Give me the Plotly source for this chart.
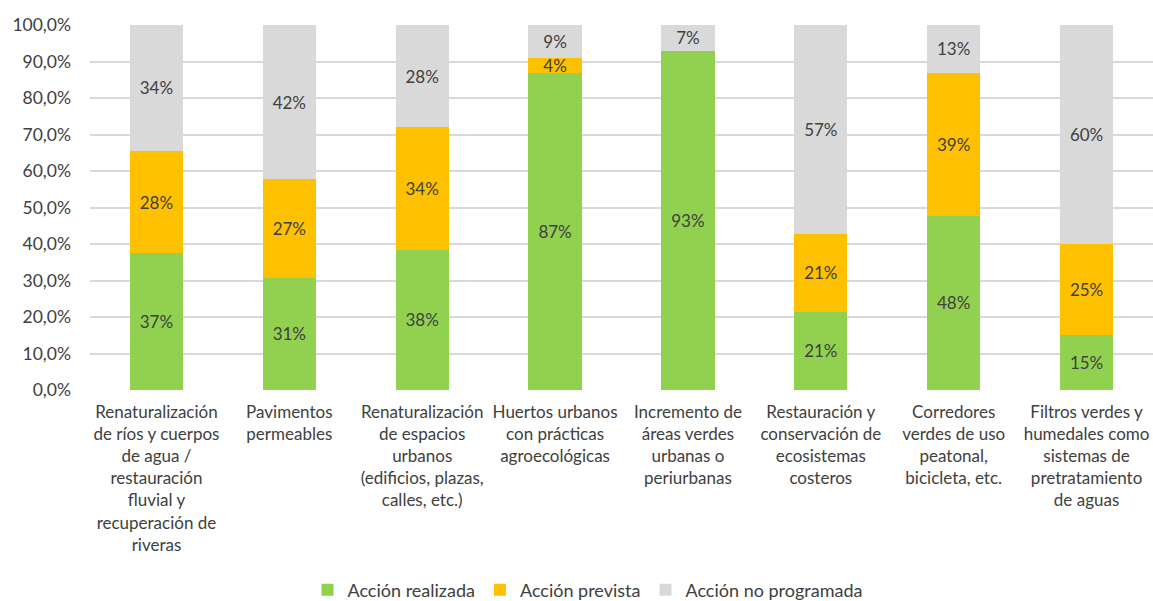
import plotly.graph_objects as go

# Categories (multi-line labels) and percentage shares per action status
categories = [
    "Renaturalización<br>de ríos y cuerpos<br>de agua /<br>restauración<br>fluvial y<br>recuperación de<br>riveras",
    "Pavimentos<br>permeables",
    "Renaturalización<br>de espacios<br>urbanos<br>(edificios, plazas,<br>calles, etc.)",
    "Huertos urbanos<br>con prácticas<br>agroecológicas",
    "Incremento de<br>áreas verdes<br>urbanas o<br>periurbanas",
    "Restauración y<br>conservación de<br>ecosistemas<br>costeros",
    "Corredores<br>verdes de uso<br>peatonal,<br>bicicleta, etc.",
    "Filtros verdes y<br>humedales como<br>sistemas de<br>pretratamiento<br>de aguas",
]
realizada = [37.4, 30.8, 38.4, 86.8, 92.9, 21.4, 47.8, 15.0]
prevista = [28.2, 26.9, 33.6, 4.2, 0.0, 21.4, 39.1, 25.0]
no_programada = [34.4, 42.3, 28.0, 9.0, 7.1, 57.2, 13.1, 60.0]

y_ticks = [0, 10, 20, 30, 40, 50, 60, 70, 80, 90, 100]

FONT = "Lato"
series = [
    ("Acción realizada", realizada, "#92D050"),
    ("Acción prevista", prevista, "#FFC000"),
    ("Acción no programada", no_programada, "#D9D9D9"),
]

x_idx = list(range(len(categories)))
fig = go.Figure()
for name, vals, color in series:
    fig.add_trace(go.Bar(
        x=x_idx, y=vals, name=name,
        marker=dict(color=color, line=dict(width=0)),
        texttemplate=["%{y:.0f}%" if v > 0 else "" for v in vals],
        textposition="inside", insidetextanchor="middle",
        constraintext="none",
        textfont=dict(family=FONT, size=17, color="#404040"),
        hoverinfo="skip",
    ))

fig.update_layout(
    barmode="stack",
    bargap=0.6,
    width=1153, height=601,
    margin=dict(l=90, r=0, t=25, b=211, autoexpand=False),
    plot_bgcolor="white", paper_bgcolor="white",
    separators=",.",
    font=dict(family=FONT, color="#404040"),
    uniformtext=dict(mode="show", minsize=17),
    showlegend=True,
    legend=dict(
        orientation="h", traceorder="normal",
        x=0.468, xanchor="center", y=-0.548, yanchor="middle",
        font=dict(family=FONT, size=18, color="#404040"),
        tracegroupgap=0,
    ),
    xaxis=dict(
        tickmode="array", tickvals=x_idx, ticktext=categories,
        range=[-0.5, len(categories) - 0.5],
        showgrid=False, zeroline=False, showline=False, ticks="",
        tickfont=dict(family=FONT, size=17, color="#404040"),
        tickangle=0,
        ticklabelstandoff=10,
        automargin=False,
    ),
    yaxis=dict(
        range=[0, 100], tickvals=y_ticks,
        ticktext=[f"{t},0%" for t in y_ticks],
        showgrid=True, gridcolor="#D9D9D9", gridwidth=1.5,
        zeroline=False, showline=False, ticks="",
        ticklabelstandoff=18,
        tickfont=dict(family=FONT, size=17.5, color="#404040"),
        automargin=False,
    ),
)

fig.write_html("out.html")
